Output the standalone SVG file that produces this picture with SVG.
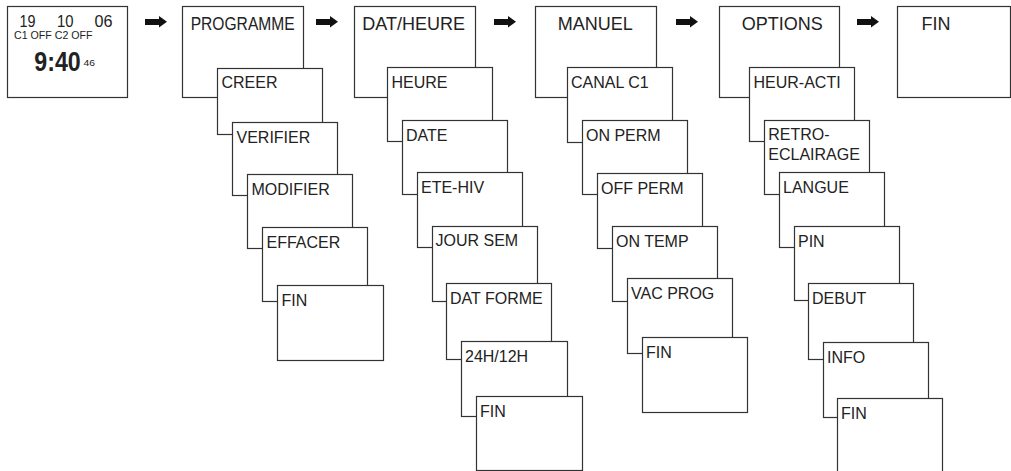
<svg xmlns="http://www.w3.org/2000/svg" width="1011" height="471" viewBox="0 0 1011 471">
<defs>
<style>
rect.b{fill:#fff;stroke:#333;stroke-width:1.2}
text{font-family:"Liberation Sans",Arial,sans-serif;fill:#222}
.h{font-size:18px}
.s{font-size:16px}
.arr{fill:#111}
</style>
<g id="arrowShape"><rect x="0" y="19" width="15" height="6"/><polygon points="14,16 22,21.8 14,27.6"/></g>
</defs>
<rect width="1011" height="471" fill="#fff"/>

<g id="display">
<rect class="b" x="7.5" y="6.5" width="120" height="91"/>
<text x="19.5" y="26.7" style="font-size:16.5px" textLength="16" lengthAdjust="spacingAndGlyphs">19</text>
<text x="57" y="26.7" style="font-size:16.5px" textLength="16.5" lengthAdjust="spacingAndGlyphs">10</text>
<text x="94.5" y="26.7" style="font-size:16.5px" textLength="18" lengthAdjust="spacingAndGlyphs">06</text>
<text x="14" y="39" style="font-size:10.5px" textLength="78.5" lengthAdjust="spacingAndGlyphs">C1 OFF C2 OFF</text>
<text transform="translate(34.3,70.7) scale(0.86,1)" x="0" y="0" style="font-size:27px;font-weight:bold">9:40</text>
<text x="83.5" y="65.5" style="font-size:9.5px" textLength="11.5" lengthAdjust="spacingAndGlyphs">46</text>
</g>

<g id="connectors" class="arr">
<use href="#arrowShape" x="145"/>
<use href="#arrowShape" x="316"/>
<use href="#arrowShape" x="494"/>
<use href="#arrowShape" x="676"/>
<use href="#arrowShape" x="857"/>
</g>

<g id="col-programme">
<g id="programme"><rect class="b" x="182.5" y="6.5" width="121" height="91"/><text class="h" x="190.7" y="30" textLength="104" lengthAdjust="spacingAndGlyphs">PROGRAMME</text></g>
<g id="creer"><rect class="b" x="217.5" y="68.5" width="105" height="66"/><text class="s" x="221.5" y="88.3">CREER</text></g>
<g id="verifier"><rect class="b" x="232.5" y="122.5" width="105" height="73"/><text class="s" x="236.5" y="142.5">VERIFIER</text></g>
<g id="modifier"><rect class="b" x="247.5" y="174.5" width="105" height="74"/><text class="s" x="251.5" y="194.5">MODIFIER</text></g>
<g id="effacer"><rect class="b" x="262.5" y="227.5" width="105" height="74"/><text class="s" x="266.5" y="247.5">EFFACER</text></g>
<g id="prog-fin"><rect class="b" x="277.5" y="285.5" width="106" height="75"/><text class="s" x="281.5" y="305.5">FIN</text></g>
</g>

<g id="col-datheure">
<g id="datheure"><rect class="b" x="354.5" y="6.5" width="121" height="91"/><text class="h" x="362.3" y="29.5">DAT/HEURE</text></g>
<g id="heure"><rect class="b" x="387.5" y="67.5" width="105" height="74"/><text class="s" x="391.5" y="87.5">HEURE</text></g>
<g id="date"><rect class="b" x="402.5" y="120.5" width="105" height="74"/><text class="s" x="406" y="140.5">DATE</text></g>
<g id="etehiv"><rect class="b" x="417.5" y="172.5" width="105" height="75"/><text class="s" x="421" y="192.5">ETE-HIV</text></g>
<g id="joursem"><rect class="b" x="432.5" y="226.5" width="105" height="75"/><text class="s" x="435.5" y="246.3">JOUR SEM</text></g>
<g id="datforme"><rect class="b" x="446.5" y="283.5" width="105" height="76"/><text class="s" x="450" y="303.5">DAT FORME</text></g>
<g id="h2412"><rect class="b" x="461.5" y="341.5" width="106" height="75"/><text class="s" x="465" y="361.5">24H/12H</text></g>
<g id="dat-fin"><rect class="b" x="476.5" y="396.5" width="106" height="74"/><text class="s" x="480" y="416.5">FIN</text></g>
</g>

<g id="col-manuel">
<g id="manuel"><rect class="b" x="535.5" y="6.5" width="121" height="91"/><text class="h" x="557.7" y="29.5">MANUEL</text></g>
<g id="canalc1"><rect class="b" x="567.5" y="67.5" width="105" height="75"/><text class="s" x="571" y="87.5">CANAL C1</text></g>
<g id="onperm"><rect class="b" x="582.5" y="120.5" width="105" height="74"/><text class="s" x="586" y="140.5">ON PERM</text></g>
<g id="offperm"><rect class="b" x="597.5" y="173.5" width="105" height="75"/><text class="s" x="601" y="193.5">OFF PERM</text></g>
<g id="ontemp"><rect class="b" x="612.5" y="226.5" width="105" height="75"/><text class="s" x="616" y="246.5">ON TEMP</text></g>
<g id="vacprog"><rect class="b" x="627.5" y="278.5" width="105" height="75"/><text class="s" x="631" y="298.5">VAC PROG</text></g>
<g id="man-fin"><rect class="b" x="642.5" y="337.5" width="105" height="75"/><text class="s" x="646" y="357.5">FIN</text></g>
</g>

<g id="col-options">
<g id="options"><rect class="b" x="719.5" y="6.5" width="120" height="91"/><text class="h" x="741.7" y="29.5">OPTIONS</text></g>
<g id="heuracti"><rect class="b" x="749.5" y="67.5" width="105" height="74"/><text class="s" x="753.5" y="87.5">HEUR-ACTI</text></g>
<g id="retro"><rect class="b" x="764.5" y="120.5" width="105" height="74"/><text class="s" x="768.3" y="140">RETRO-</text><text class="s" x="768.3" y="159.5">ECLAIRAGE</text></g>
<g id="langue"><rect class="b" x="779.5" y="172.5" width="105" height="75"/><text class="s" x="783" y="192.5">LANGUE</text></g>
<g id="pin"><rect class="b" x="794.5" y="226.5" width="105" height="74"/><text class="s" x="798" y="246.5">PIN</text></g>
<g id="debut"><rect class="b" x="808.5" y="283.5" width="105" height="76"/><text class="s" x="812" y="303.5">DEBUT</text></g>
<g id="info"><rect class="b" x="823.5" y="342.5" width="105" height="75"/><text class="s" x="827" y="362.5">INFO</text></g>
<g id="opt-fin"><rect class="b" x="837.5" y="398.5" width="105" height="80"/><text class="s" x="841" y="418.5">FIN</text></g>
</g>

<g id="fin">
<rect class="b" x="897.5" y="6.5" width="113" height="91"/>
<text class="h" x="936" y="29.5" text-anchor="middle">FIN</text>
</g>
</svg>
